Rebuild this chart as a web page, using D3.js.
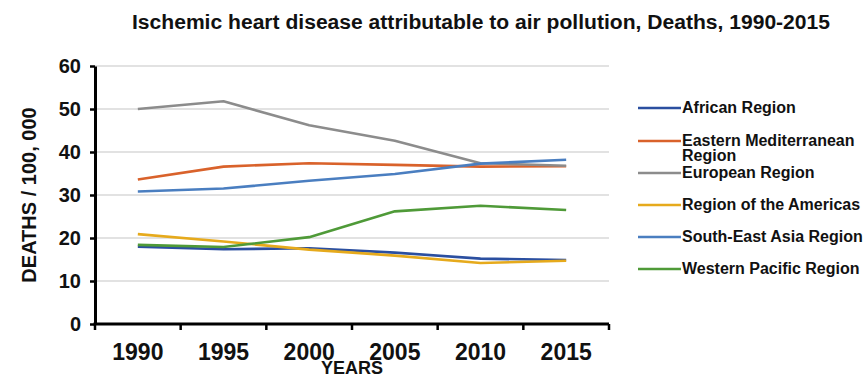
<!DOCTYPE html>
<html>
<head>
<meta charset="utf-8">
<script src="https://cdn.jsdelivr.net/npm/d3@7/dist/d3.min.js"></script>
<style>
  html, body { margin: 0; padding: 0; background: #fff; }
  svg { display: block; font-family: "Liberation Sans", Arial, sans-serif; font-weight: bold; }
</style>
</head>
<body>
<svg id="chart" width="864" height="378"></svg>
<script>
// Ischemic heart disease deaths attributable to air pollution, per 100 000, by WHO region
const years = ["1990", "1995", "2000", "2005", "2010", "2015"];
const yTicks = [0, 10, 20, 30, 40, 50, 60];

const africanRegion      = [18.0, 17.4, 17.6, 16.6, 15.2, 14.9];
const easternMedRegion   = [33.6, 36.6, 37.4, 37.0, 36.6, 36.7];
const europeanRegion     = [50.0, 51.8, 46.2, 42.6, 37.4, 36.8];
const americasRegion     = [20.9, 19.2, 17.3, 15.9, 14.2, 14.7];
const seAsiaRegion       = [30.8, 31.5, 33.3, 34.9, 37.3, 38.2];
const westernPacRegion   = [18.4, 17.9, 20.2, 26.2, 27.5, 26.5];

const seriesNames = [
  "African Region",
  "Eastern Mediterranean Region",
  "European Region",
  "Region of the Americas",
  "South-East Asia Region",
  "Western Pacific Region"
];
const seriesValues = [africanRegion, easternMedRegion, europeanRegion, americasRegion, seAsiaRegion, westernPacRegion];
const seriesColors = ["#2b4fa0", "#d9622b", "#8c8c8c", "#e6aa1c", "#4a7ec0", "#4f9a38"];

const svg = d3.select("#chart");
const plot = { left: 95, right: 609, top: 66, bottom: 324 };

const x = d3.scaleBand().domain(years).range([plot.left, plot.right]).paddingInner(0).paddingOuter(0);
const y = d3.scaleLinear().domain([0, 60]).range([plot.bottom, plot.top]);

// Title (condensed bold)
svg.append("text")
  .attr("x", 481).attr("y", 29)
  .attr("text-anchor", "middle")
  .attr("font-size", 20)
  .attr("fill", "#111")
  .attr("textLength", 698).attr("lengthAdjust", "spacingAndGlyphs")
  .text("Ischemic heart disease attributable to air pollution, Deaths, 1990-2015");

// Horizontal gridlines
svg.append("g")
  .selectAll("line")
  .data(yTicks.filter(d => d > 0))
  .join("line")
  .attr("x1", plot.left).attr("x2", plot.right)
  .attr("y1", d => y(d)).attr("y2", d => y(d))
  .attr("stroke", "#c6c6c6").attr("stroke-width", 1.2);

// Series lines
const line = d3.line()
  .x((d, i) => x(years[i]) + x.bandwidth() / 2)
  .y(d => y(d));

svg.append("g")
  .selectAll("path")
  .data(seriesValues)
  .join("path")
  .attr("d", d => line(d))
  .attr("fill", "none")
  .attr("stroke", (d, i) => seriesColors[i])
  .attr("stroke-width", 2.6)
  .attr("stroke-linejoin", "round");

// Y axis
const yAxis = svg.append("g")
  .attr("transform", `translate(${plot.left},0)`)
  .call(d3.axisLeft(y).tickValues(yTicks).tickSize(5).tickPadding(9).tickSizeOuter(0));
yAxis.select(".domain").attr("stroke", "#000").attr("stroke-width", 3);
yAxis.selectAll(".tick line").attr("stroke", "#000").attr("stroke-width", 2.5);
yAxis.selectAll(".tick text")
  .attr("font-size", 20).attr("font-family", "Liberation Sans, Arial, sans-serif")
  .attr("font-weight", "bold").attr("fill", "#111");

// X axis with ticks at category boundaries
const xAxis = svg.append("g")
  .attr("transform", `translate(0,${plot.bottom})`)
  .call(d3.axisBottom(x).tickSize(0).tickPadding(20));
xAxis.select(".domain").remove();
xAxis.selectAll(".tick text")
  .attr("font-size", 23).attr("font-family", "Liberation Sans, Arial, sans-serif")
  .attr("font-weight", "bold").attr("fill", "#111");

const boundaries = years.map(d => x(d)).concat([x(years[years.length - 1]) + x.bandwidth()]);
xAxis.append("line")
  .attr("x1", plot.left - 1.5).attr("x2", plot.right)
  .attr("y1", 0).attr("y2", 0)
  .attr("stroke", "#000").attr("stroke-width", 3);
xAxis.selectAll(".bound")
  .data(boundaries)
  .join("line")
  .attr("class", "bound")
  .attr("x1", d => d).attr("x2", d => d)
  .attr("y1", 0).attr("y2", 6)
  .attr("stroke", "#000").attr("stroke-width", 2.5);

// Axis titles
svg.append("text")
  .attr("transform", `translate(36,${(plot.top + plot.bottom) / 2}) rotate(-90)`)
  .attr("text-anchor", "middle")
  .attr("font-size", 20)
  .attr("fill", "#111")
  .text("DEATHS / 100, 000");

svg.append("text")
  .attr("x", 352).attr("y", 374)
  .attr("text-anchor", "middle")
  .attr("font-size", 18)
  .attr("fill", "#111")
  .text("YEARS");

// Legend
const legendRows = [
  { lines: ["African Region"], y: 107 },
  { lines: ["Eastern Mediterranean", "Region"], y: 140 },
  { lines: ["European Region"], y: 172 },
  { lines: ["Region of the Americas"], y: 204 },
  { lines: ["South-East Asia Region"], y: 236 },
  { lines: ["Western Pacific Region"], y: 268 }
];
const legend = svg.append("g");
const item = legend.selectAll("g")
  .data(seriesNames)
  .join("g")
  .attr("transform", (d, i) => `translate(0,${legendRows[i].y})`);
item.append("line")
  .attr("x1", 638).attr("x2", 681)
  .attr("y1", 1).attr("y2", 1)
  .attr("stroke", (d, i) => seriesColors[i])
  .attr("stroke-width", 2.6);
item.append("text")
  .attr("x", 682)
  .attr("font-size", 16)
  .attr("fill", "#111")
  .selectAll("tspan")
  .data((d, i) => legendRows[i].lines)
  .join("tspan")
  .attr("x", 682)
  .attr("dy", (d, j) => j === 0 ? "0.36em" : "0.98em")
  .text(d => d);
</script>
</body>
</html>
